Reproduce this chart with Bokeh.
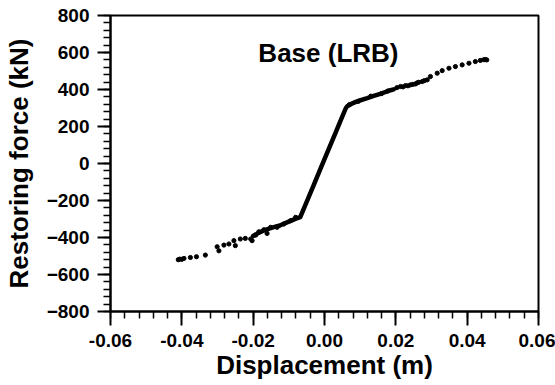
from bokeh.plotting import figure
from bokeh.models import Range1d, SingleIntervalTicker, NumeralTickFormatter, Label
from bokeh.embed import file_html
from bokeh.resources import INLINE

# Dense (continuous-looking) part of the loop: negative yield branch, elastic branch, positive yield branch
dense_disp = [-0.0200, -0.0185, -0.0170, -0.0155, -0.0140, -0.0125, -0.0110, -0.0095, -0.0080, -0.0068,
              -0.0050, -0.0030, -0.0010, 0.0010, 0.0030, 0.0048, 0.0060,
              0.0064, 0.0075, 0.0088, 0.0101, 0.0120, 0.0138, 0.0152, 0.0166, 0.0185, 0.0194]
dense_force = [-392, -375, -362, -352, -343, -335, -322, -310, -298, -290,
               -207, -115, -22, 70, 162, 245, 300,
               310, 322, 333, 342, 353, 365, 374, 383, 396, 401]

# Individual measured points (outer, sparse parts and scatter around dense parts)
pt_disp = [-0.0410, -0.0406, -0.0400, -0.0394, -0.0376, -0.0359, -0.0334, -0.0301, -0.0296, -0.0282,
           -0.0268, -0.0254, -0.0250, -0.0236, -0.0222, -0.0207, -0.0203, -0.0193, -0.0184, -0.0170,
           -0.0161, -0.0151, -0.0133, -0.0114, -0.0095, -0.0081,
           0.0070, 0.0095, 0.0130, 0.0160, 0.0178,
           0.0203, 0.0213, 0.0220, 0.0227, 0.0234, 0.0241, 0.0248, 0.0255, 0.0260, 0.0264,
           0.0274, 0.0280, 0.0288, 0.0297, 0.0316, 0.0330, 0.0349, 0.0367, 0.0386, 0.0405,
           0.0423, 0.0437, 0.0447, 0.0451, 0.0455]
pt_force = [-520, -517, -518, -513, -508, -504, -495, -450, -472, -441,
            -435, -417, -444, -408, -405, -408, -417, -387, -369, -358,
            -378, -345, -345, -327, -309, -291,
            318, 336, 364, 378, 392,
            410, 416, 414, 421, 420, 425, 428, 430, 436, 439,
            443, 448, 452, 470, 488, 502, 515, 524, 533, 542,
            551, 557, 561, 562, 560]

x_ticks_interval = 0.02
y_ticks_interval = 200
chart_title = "Base (LRB)"
x_label = "Displacement (m)"
y_label = "Restoring force (kN)"

FONT = "Liberation Sans"

p = figure(width=555, height=385, output_backend="svg", toolbar_location=None,
           x_range=Range1d(-0.06, 0.06), y_range=Range1d(-800, 800),
           min_border_left=110, min_border_right=17, min_border_top=15, min_border_bottom=74)

p.background_fill_color = "white"
p.border_fill_color = "white"
p.outline_line_color = "black"
p.outline_line_width = 2
p.xgrid.visible = False
p.ygrid.visible = False

p.line(dense_disp, dense_force, line_color="black", line_width=4.5, line_join="round", line_cap="round")
p.scatter(pt_disp, pt_force, size=4.2, fill_color="black", line_color="black")

p.xaxis.ticker = SingleIntervalTicker(interval=x_ticks_interval, num_minor_ticks=5)
p.yaxis.ticker = SingleIntervalTicker(interval=y_ticks_interval, num_minor_ticks=5)
p.xaxis.formatter = NumeralTickFormatter(format="0.00")

for ax in (p.xaxis, p.yaxis):
    ax.axis_line_color = "black"
    ax.axis_line_width = 2
    ax.major_tick_line_color = "black"
    ax.major_tick_line_width = 2
    ax.minor_tick_line_color = "black"
    ax.minor_tick_line_width = 1.5
    ax.major_tick_in = 0
    ax.minor_tick_in = 0
    ax.major_label_text_font = FONT
    ax.major_label_text_font_style = "bold"
    ax.major_label_text_font_size = "19px"
    ax.major_label_text_color = "black"
    ax.axis_label_text_font = FONT
    ax.axis_label_text_font_style = "bold"
    ax.axis_label_text_font_size = "26px"
    ax.axis_label_text_color = "black"

p.xaxis.major_tick_out = 14
p.xaxis.minor_tick_out = 7
p.yaxis.major_tick_out = 13
p.yaxis.minor_tick_out = 7
p.xaxis.major_label_standoff = 8
p.yaxis.major_label_standoff = 8
p.xaxis.axis_label = x_label
p.yaxis.axis_label = y_label
p.xaxis.axis_label_standoff = 0
p.yaxis.axis_label_standoff = 10

p.add_layout(Label(x=0.0011, y=600, text=chart_title, text_align="center", text_baseline="alphabetic",
                   text_font=FONT, text_font_style="bold", text_font_size="26px", text_color="black"))

open("out.html", "w").write(file_html(p, INLINE))
